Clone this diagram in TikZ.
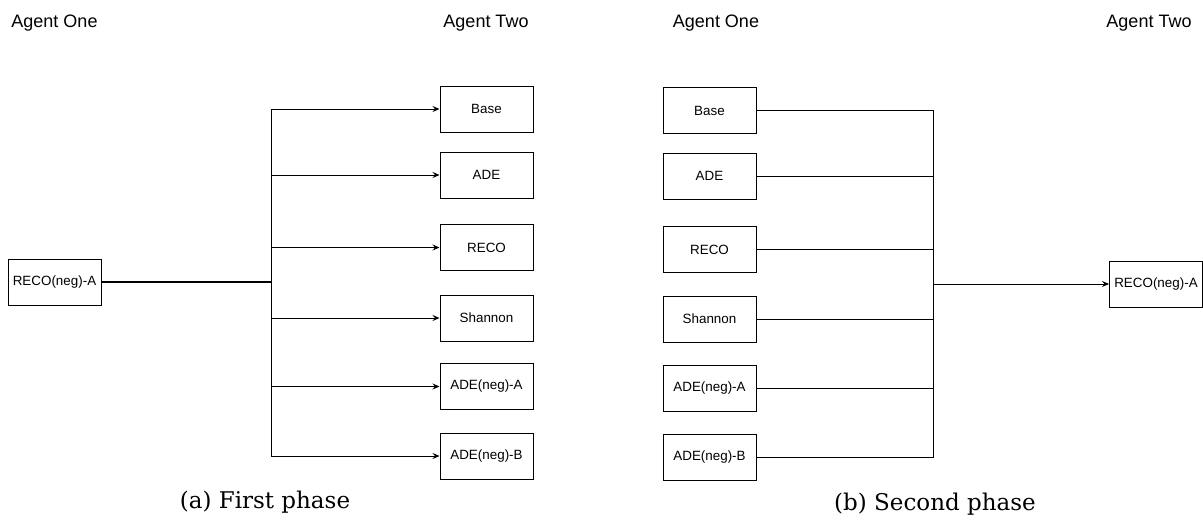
\documentclass[tikz,border=0pt]{standalone}
\usepackage{fontspec}
\newfontfamily\diafont{Liberation Sans}
\newfontfamily\capfont{DejaVu Serif}
\usetikzlibrary{arrows.meta}

\begin{document}
\begin{tikzpicture}[x=1pt, y=-1pt,
    agent/.style={font=\diafont\fontsize{18}{21}\selectfont, inner sep=0pt, anchor=base},
    model/.style={draw, line width=1pt, minimum width=93pt, minimum height=46pt, inner sep=1pt, font=\diafont\fontsize{13.4}{16}\selectfont},
    link/.style={line width=1pt},
    arr/.style={link, -{Stealth[length=7pt, width=6pt, inset=2.5pt]}},
    caption/.style={font=\capfont\fontsize{23}{28}\selectfont, inner sep=0pt, anchor=base},
]
    \useasboundingbox (0,0) rectangle (1203,531);

    % Agent labels
    \node[agent] (one1) at (54.5,27) {Agent One};
    \node[agent] (two1) at (486,27) {Agent Two};
    \node[agent] (one2) at (716,27) {Agent One};
    \node[agent] (two2) at (1149,27) {Agent Two};

    % First phase
    \node[model] (src1) at (54.5,282) {RECO(neg)-A};
    \node[model] (base1) at (486.5,109) {Base};
    \node[model] (ade1) at (486.5,175) {ADE};
    \node[model] (reco1) at (486.5,247.5) {RECO};
    \node[model] (shan1) at (486.5,318) {Shannon};
    \node[model] (nega1) at (486.5,386.5) {ADE(neg)-A};
    \node[model] (negb1) at (486.5,456) {ADE(neg)-B};
    \coordinate (split1) at (271,282);

    \draw[link, line width=1.8pt] (src1) -- (split1);
    \draw[arr] (split1) |- (base1);
    \draw[arr] (split1) |- (ade1);
    \draw[arr] (split1) |- (reco1);
    \draw[arr] (split1) |- (shan1);
    \draw[arr] (split1) |- (nega1);
    \draw[arr] (split1) |- (negb1);

    % Second phase
    \node[model] (base2) at (709.5,110.5) {Base};
    \node[model] (ade2) at (709.5,176) {ADE};
    \node[model] (reco2) at (709.5,249.5) {RECO};
    \node[model] (shan2) at (709.5,319) {Shannon};
    \node[model] (nega2) at (709.5,388) {ADE(neg)-A};
    \node[model] (negb2) at (709.5,457.5) {ADE(neg)-B};
    \node[model] (dst2) at (1156,284) {RECO(neg)-A};
    \coordinate (merge2) at (933,284);

    \draw[link] (base2) -| (merge2);
    \draw[link] (ade2) -| (merge2);
    \draw[link] (reco2) -| (merge2);
    \draw[link] (shan2) -| (merge2);
    \draw[link] (nega2) -| (merge2);
    \draw[link] (negb2) -| (merge2);
    \draw[arr] (merge2) -- (dst2);

    % Captions
    \node[caption] (capa) at (265,508) {(a) First phase};
    \node[caption] (capb) at (935,510) {(b) Second phase};
\end{tikzpicture}
\end{document}
